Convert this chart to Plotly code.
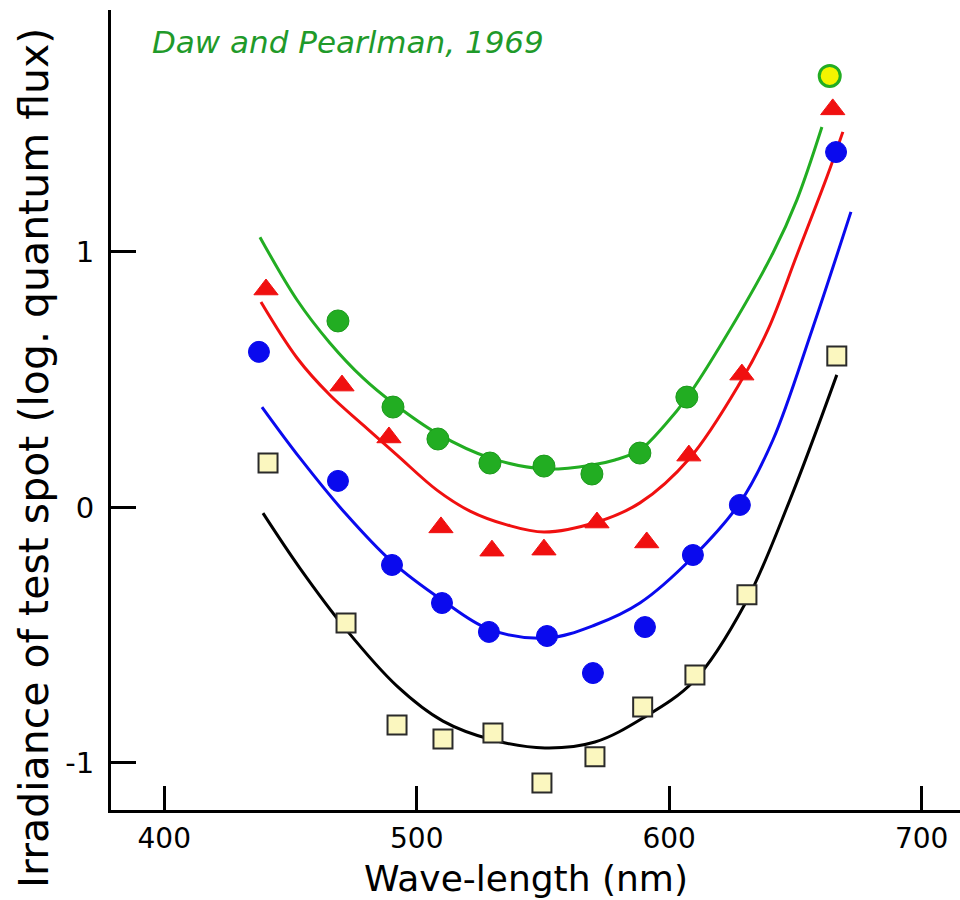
import plotly.graph_objects as go

# ---------------- data ----------------
# Green circles
green_x = [468.8, 490.6, 508.4, 529.0, 550.4, 569.4, 588.4, 607.0]
green_y = [0.730, 0.393, 0.268, 0.174, 0.162, 0.131, 0.213, 0.432]
# Yellow-filled green circle
green_extra_x = [663.6]
green_extra_y = [1.689]
# Green template curve
green_curve_x = [437.9, 452.6, 465.6, 478.7, 490.6, 508.4, 529.0, 550.4, 569.4, 578.5, 588.4, 598.3, 607.0, 622.1, 641.1, 650.6, 660.5]
green_curve_y = [1.058, 0.812, 0.644, 0.507, 0.409, 0.288, 0.194, 0.151, 0.166, 0.186, 0.225, 0.323, 0.429, 0.663, 0.996, 1.204, 1.489]

# Red triangles
red_x = [440.3, 470.4, 489.0, 509.6, 529.8, 550.4, 571.4, 591.1, 607.8, 628.8, 664.8]
red_y = [0.853, 0.477, 0.274, -0.078, -0.169, -0.165, -0.059, -0.137, 0.203, 0.520, 1.558]
red_curve_x = [438.3, 452.6, 465.6, 478.7, 492.2, 508.0, 521.1, 535.7, 550.4, 571.4, 588.4, 608.2, 628.0, 639.1, 650.6, 662.5, 668.8]
red_curve_y = [0.804, 0.585, 0.440, 0.323, 0.205, 0.068, -0.014, -0.068, -0.096, -0.057, 0.018, 0.194, 0.487, 0.695, 0.988, 1.294, 1.470]

# Blue circles
blue_x = [437.5, 468.8, 490.2, 510.0, 528.6, 551.6, 569.8, 590.4, 609.4, 628.0, 666.1]
blue_y = [0.609, 0.104, -0.225, -0.374, -0.487, -0.503, -0.648, -0.468, -0.186, 0.010, 1.391]
blue_curve_x = [438.7, 453.7, 471.9, 490.2, 510.0, 528.6, 551.6, 570.6, 588.4, 609.4, 628.0, 641.1, 656.6, 672.0]
blue_curve_y = [0.393, 0.194, -0.025, -0.213, -0.362, -0.476, -0.511, -0.460, -0.374, -0.194, 0.018, 0.264, 0.695, 1.157]

# Squares (black template curve)
sq_x = [441.1, 472.0, 492.2, 510.4, 530.2, 549.6, 570.6, 589.5, 610.2, 630.8, 666.4]
sq_y = [0.174, -0.452, -0.851, -0.906, -0.883, -1.078, -0.976, -0.781, -0.656, -0.342, 0.593]
black_curve_x = [439.1, 453.7, 471.9, 492.2, 510.4, 530.2, 550.8, 570.6, 589.6, 609.8, 630.0, 647.8, 666.4]
black_curve_y = [-0.022, -0.237, -0.476, -0.699, -0.836, -0.910, -0.941, -0.918, -0.824, -0.679, -0.378, 0.029, 0.519]

x_ticks = [400, 500, 600, 700]
x_tick_labels = ["400", "500", "600", "700"]
y_ticks = [-1, 0, 1]
y_tick_labels = ["-1", "0", "1"]

title_text = "Daw and Pearlman, 1969"
x_title = "Wave-length (nm)"
y_title = "Irradiance of test spot (log. quantum flux)"

# ---------------- styles ----------------
FONT = "DejaVu Sans"
GREEN = "#22ad22"
RED = "#f01010"
BLUE = "#0a0aee"

fig = go.Figure()

def curve(x, y, color):
    fig.add_trace(go.Scatter(x=x, y=y, mode="lines",
                             line=dict(color=color, width=3, shape="spline", smoothing=1.0),
                             hoverinfo="skip", showlegend=False))

curve(green_curve_x, green_curve_y, GREEN)
curve(red_curve_x, red_curve_y, RED)
curve(blue_curve_x, blue_curve_y, BLUE)
curve(black_curve_x, black_curve_y, "#000000")

fig.add_trace(go.Scatter(x=green_x, y=green_y, mode="markers",
                         marker=dict(symbol="circle", size=22, color=GREEN,
                                     line=dict(color="#1c9a1c", width=1)),
                         showlegend=False))
fig.add_trace(go.Scatter(x=green_extra_x, y=green_extra_y, mode="markers",
                         marker=dict(symbol="circle", size=21, color="#f4f400",
                                     line=dict(color=GREEN, width=3)),
                         showlegend=False))
fig.add_trace(go.Scatter(x=red_x, y=red_y, mode="markers",
                         marker=dict(symbol="triangle-up", size=21, color=RED,
                                     line=dict(color=RED, width=1)),
                         showlegend=False))
fig.add_trace(go.Scatter(x=blue_x, y=blue_y, mode="markers",
                         marker=dict(symbol="circle", size=21, color=BLUE,
                                     line=dict(color=BLUE, width=1)),
                         showlegend=False))
fig.add_trace(go.Scatter(x=sq_x, y=sq_y, mode="markers",
                         marker=dict(symbol="square", size=19, color="#fbf7bf",
                                     line=dict(color="#2a2a2a", width=2)),
                         showlegend=False))

fig.update_layout(
    width=960, height=900,
    margin=dict(l=111, r=0, t=10, b=90),
    paper_bgcolor="white", plot_bgcolor="white",
    font=dict(family=FONT, color="black"),
    showlegend=False,
    xaxis=dict(range=[378.9, 715.2], showgrid=False, zeroline=False,
               showline=True, linecolor="black", linewidth=3,
               ticks="inside", ticklen=24, tickwidth=3, tickcolor="black",
               tickvals=x_ticks, ticktext=x_tick_labels,
               tickfont=dict(family=FONT, size=28, color="black"),
               ticklabelstandoff=1),
    yaxis=dict(range=[-1.184, 1.947], showgrid=False, zeroline=False,
               showline=True, linecolor="black", linewidth=3,
               ticks="inside", ticklen=25, tickwidth=3, tickcolor="black",
               tickvals=y_ticks, ticktext=y_tick_labels,
               tickfont=dict(family=FONT, size=29, color="black"),
               ticklabelstandoff=8),
    annotations=[
        dict(text="<i>" + title_text + "</i>", xref="paper", yref="paper",
             x=(150 - 111) / 849, y=(810 - 42) / 800, xanchor="left", yanchor="middle",
             showarrow=False, font=dict(family=FONT, size=31, color="#1f9a2a")),
        dict(text=x_title, xref="paper", yref="paper",
             x=(526 - 111) / 849, y=(810 - 878) / 800, xanchor="center", yanchor="middle",
             showarrow=False, font=dict(family=FONT, size=36, color="black")),
        dict(text=y_title, xref="paper", yref="paper",
             x=(34 - 111) / 849, y=(810 - 458) / 800, xanchor="center", yanchor="middle",
             showarrow=False, textangle=-90, font=dict(family=FONT, size=41, color="black")),
    ],
)

fig.write_html("out.html")
